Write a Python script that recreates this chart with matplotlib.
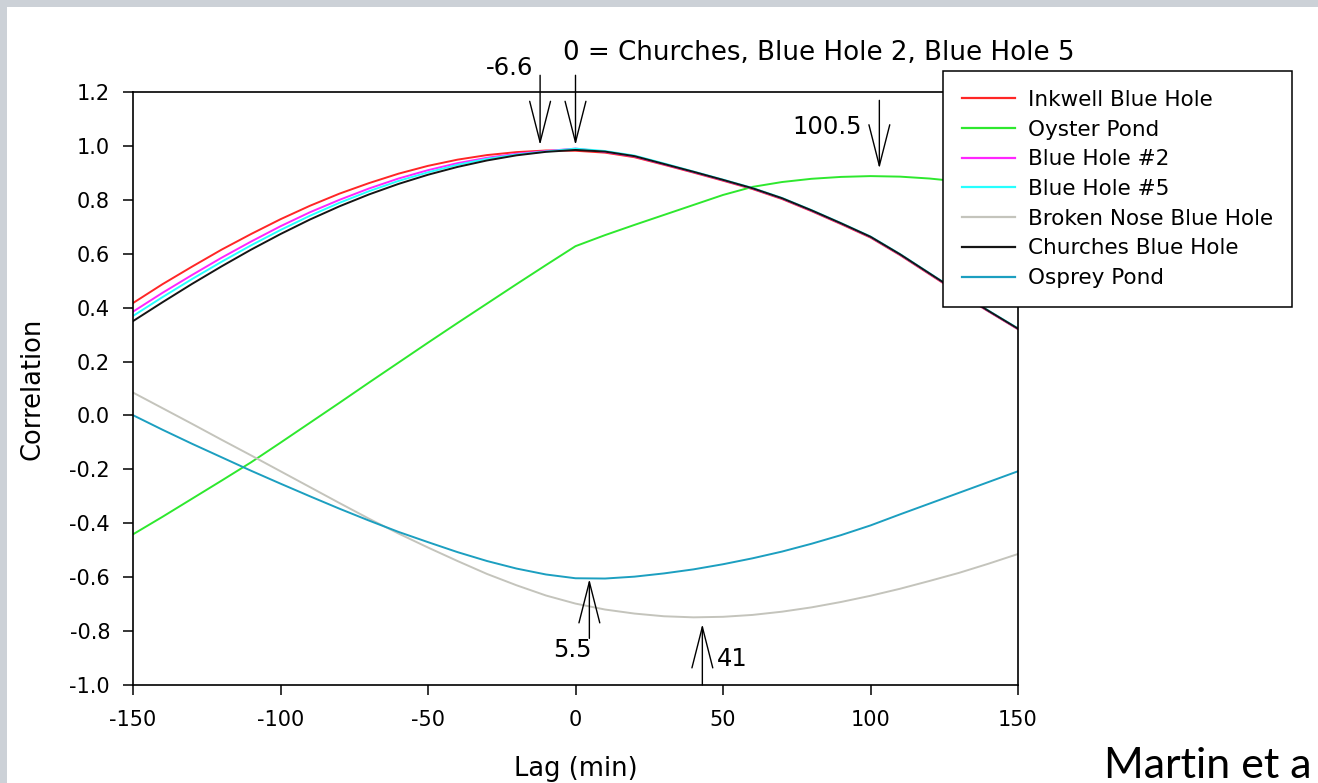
import matplotlib
matplotlib.use("Agg")
import matplotlib.pyplot as plt
from matplotlib.patches import Rectangle
from matplotlib.ticker import FormatStrFormatter

plt.rcParams["font.family"] = ["DejaVu Sans"]
plt.rcParams["axes.unicode_minus"] = False

# ---------------- data ----------------
lags = list(range(-150, 151, 10))

inkwell = [0.417, 0.487, 0.552, 0.615, 0.673, 0.728, 0.778, 0.823, 0.862, 0.897, 0.926,
           0.949, 0.966, 0.977, 0.983, 0.982,
           0.975, 0.958, 0.930, 0.901, 0.871, 0.840, 0.803, 0.758, 0.710, 0.660,
           0.595, 0.524, 0.453, 0.386, 0.320]
oyster = [-0.441, -0.376, -0.309, -0.242, -0.174, -0.101, -0.027, 0.047, 0.122, 0.196, 0.270,
          0.343, 0.415, 0.487, 0.558, 0.628,
          0.669, 0.707, 0.744, 0.781, 0.818, 0.848, 0.866, 0.878, 0.885, 0.888,
          0.886, 0.879, 0.868, 0.854, 0.838]
bluehole2 = [0.385, 0.455, 0.521, 0.585, 0.645, 0.702, 0.754, 0.800, 0.842, 0.879, 0.910,
             0.936, 0.956, 0.971, 0.981, 0.990,
             0.978, 0.961, 0.932, 0.903, 0.873, 0.842, 0.805, 0.760, 0.712, 0.662,
             0.597, 0.526, 0.455, 0.387, 0.321]
bluehole5 = [0.369, 0.439, 0.506, 0.570, 0.631, 0.688, 0.741, 0.789, 0.832, 0.870, 0.902,
             0.930, 0.952, 0.968, 0.979, 0.990,
             0.981, 0.964, 0.935, 0.905, 0.875, 0.844, 0.807, 0.762, 0.714, 0.664,
             0.599, 0.528, 0.457, 0.389, 0.323]
brokennose = [0.085, 0.027, -0.031, -0.090, -0.148, -0.207, -0.266, -0.325, -0.383, -0.438, -0.490,
              -0.540, -0.588, -0.630, -0.668, -0.698,
              -0.720, -0.735, -0.745, -0.749, -0.747, -0.740, -0.728, -0.712, -0.692, -0.669,
              -0.643, -0.614, -0.584, -0.550, -0.514]
churches = [0.350, 0.420, 0.488, 0.553, 0.615, 0.673, 0.727, 0.776, 0.820, 0.859, 0.893,
            0.922, 0.946, 0.965, 0.978, 0.985,
            0.979, 0.962, 0.933, 0.904, 0.874, 0.843, 0.806, 0.761, 0.713, 0.663,
            0.598, 0.527, 0.456, 0.388, 0.322]
osprey = [0.001, -0.053, -0.105, -0.155, -0.205, -0.253, -0.300, -0.346, -0.390, -0.432, -0.470,
          -0.507, -0.540, -0.568, -0.590, -0.604,
          -0.605, -0.598, -0.586, -0.571, -0.552, -0.530, -0.505, -0.476, -0.444, -0.408,
          -0.367, -0.327, -0.287, -0.247, -0.207]

series_names = ["Inkwell Blue Hole", "Oyster Pond", "Blue Hole #2", "Blue Hole #5",
                "Broken Nose Blue Hole", "Churches Blue Hole", "Osprey Pond"]
series_values = [inkwell, oyster, bluehole2, bluehole5, brokennose, churches, osprey]
series_colors = ["#ff2626", "#2ee82e", "#ff26ff", "#26ffff", "#c4c4bc", "#151515", "#1c9fc0"]

xticks = [-150, -100, -50, 0, 50, 100, 150]
yticks = [-1.0, -0.8, -0.6, -0.4, -0.2, 0.0, 0.2, 0.4, 0.6, 0.8, 1.0, 1.2]

# peak/trough annotations: arrow x, arrow tail y, arrow tip y
arrow_x = [-12.0, 0.0, 103.0, 4.7, 43.0]
arrow_tail = [1.262, 1.262, 1.169, -0.827, -1.0]
arrow_tip = [1.003, 1.003, 0.916, -0.607, -0.774]

# ---------------- figure ----------------
W, H = 1318, 783
fig = plt.figure(figsize=(W / 100, H / 100), dpi=100, facecolor="#ccd1d7")
fig.add_artist(Rectangle((7 / W, 0), 1 - 7 / W, 1 - 7 / H, transform=fig.transFigure,
                         facecolor="white", edgecolor="none", zorder=0))

ax = fig.add_axes([133 / W, 1 - 685 / H, 885 / W, 593 / H])
ax.set_facecolor("white")

for name, vals, col in zip(series_names, series_values, series_colors):
    ax.plot(lags, vals, color=col, lw=1.4, label=name, solid_joinstyle="round")

ax.set_xlim(-150, 150)
ax.set_ylim(-1.0, 1.2)
ax.set_xticks(xticks)
ax.set_yticks(yticks)
ax.yaxis.set_major_formatter(FormatStrFormatter("%.1f"))
ax.tick_params(axis="both", direction="out", length=7, width=1.1, labelsize=15, color="black")
ax.tick_params(axis="x", pad=11)
ax.tick_params(axis="y", pad=9.5)
for sp in ax.spines.values():
    sp.set_linewidth(1.2)
    sp.set_color("black")

ax.set_xlabel("Lag (min)", fontsize=18.5, labelpad=19)
ax.set_ylabel("Correlation", fontsize=18.5, labelpad=17)

# arrows
for xa, yt, yp in zip(arrow_x, arrow_tail, arrow_tip):
    ax.annotate("", xy=(xa, yp), xytext=(xa, yt), xycoords="data", textcoords="data",
                annotation_clip=False,
                arrowprops=dict(arrowstyle="->,head_length=2.95,head_width=0.75",
                                lw=1.0, color="black", shrinkA=0, shrinkB=0,
                                mutation_scale=10))

ax.text(-14.4, 1.262, "-6.6", ha="right", va="baseline", fontsize=17.5, clip_on=False)
ax.text(-4.1, 1.32, "0 = Churches, Blue Hole 2, Blue Hole 5", ha="left", va="baseline",
        fontsize=18.8, clip_on=False)
ax.text(97.2, 1.043, "100.5", ha="right", va="baseline", fontsize=17.5, clip_on=False)
ax.text(5.3, -0.896, "5.5", ha="right", va="baseline", fontsize=17.5, clip_on=False)
ax.text(47.9, -0.929, "41", ha="left", va="baseline", fontsize=17.5, clip_on=False)

leg = ax.legend(loc="upper left", bbox_to_anchor=(943 / W, 1 - 71 / H),
                bbox_transform=fig.transFigure, borderaxespad=0, fontsize=15.5,
                frameon=True, fancybox=False, edgecolor="black", framealpha=1,
                borderpad=0.88, labelspacing=0.45, handlelength=2.45, handletextpad=0.62)
leg.get_frame().set_linewidth(1.1)
for lh in leg.get_lines():
    lh.set_linewidth(1.6)

fig.text(1104 / W, 1 - 778 / H, "Martin et a", fontsize=31, family=["Lato", "DejaVu Sans"],
         ha="left", va="baseline", color="black")

fig.savefig("out.png", dpi=100, facecolor=fig.get_facecolor())
